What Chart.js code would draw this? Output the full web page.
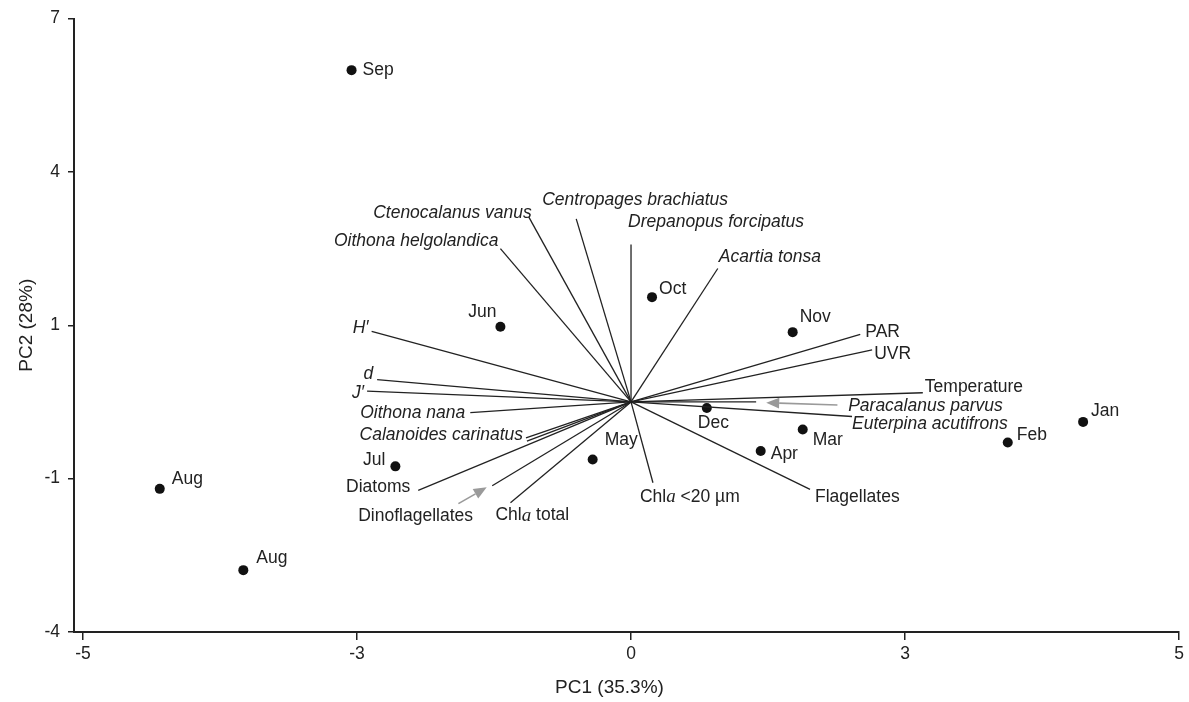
<!DOCTYPE html>
<html>
<head>
<meta charset="utf-8">
<script src="https://cdn.jsdelivr.net/npm/chart.js@4.4.1/dist/chart.umd.min.js"></script>
<style>
  html, body { margin: 0; padding: 0; background: #fff; }
  #wrap { width: 1189px; height: 702px; }
</style>
</head>
<body>
<div id="wrap"><canvas id="chart"></canvas></div>
<script>
// tick labels of the figure (they sit evenly spaced on the page)
const xTicks = [-5, -3, 0, 3, 5];
const yTicks = [-4, -1, 1, 4, 7];

// sample scores
const monthNames = ['Jan', 'Feb', 'Mar', 'Apr', 'May', 'Jun', 'Jul', 'Aug', 'Aug', 'Sep', 'Oct', 'Nov', 'Dec'];
const monthX = [4.30, 3.75, 1.88, 1.42, -0.42, -1.43, -2.58, -4.44, -3.83, -3.04, 0.23, 1.77, 0.83];
const monthY = [-0.26, -0.53, -0.36, -0.64, -0.75, 0.98, -0.84, -1.20, -2.79, 5.99, 1.55, 0.91, -0.08];

// variable loadings
const varNames = ['Ctenocalanus vanus', 'Centropages brachiatus', 'Drepanopus forcipatus', 'Oithona helgolandica',
    'Acartia tonsa', 'H\u2032', 'd', 'J\u2032', 'Oithona nana', 'Calanoides carinatus', '',
    'Diatoms', 'Dinoflagellates', 'Chla total', 'Chla <20 \u00b5m', 'Flagellates',
    'Euterpina acutifrons', 'Paracalanus parvus', 'Temperature', 'UVR', 'PAR'];
const varX = [-1.12, -0.60, 0.00, -1.43, 0.95, -2.84, -2.78, -2.89, -1.76, -1.15, -1.14,
    -2.33, -1.52, -1.32, 0.24, 1.96, 2.42, 1.37, 3.13, 2.64, 2.51];
const varY = [3.12, 3.08, 2.58, 2.50, 2.11, 0.92, 0.29, 0.14, -0.14, -0.47, -0.51,
    -1.23, -1.14, -1.47, -1.08, -1.21, -0.19, 0.00, 0.12, 0.68, 0.88];

// grey pointer arrows (from, to)
const arrowFromX = [2.26, -1.89];
const arrowFromY = [-0.04, -1.49];
const arrowToX = [1.48, -1.58];
const arrowToY = [-0.01, -1.17];

// label placement: [dx, dy, align] in px from the mark
const monthLabelPos = [[8, -11, 'left'], [9, -7, 'left'], [10, 11, 'left'], [10, 3, 'left'], [12, -19, 'left'],
    [-4, -15, 'right'], [-10, -6, 'right'], [12, -10, 'left'], [13, -12, 'left'], [11, 0, 'left'],
    [7, -8, 'left'], [7, -15, 'left'], [-9, 15, 'left']];
const varLabelPos = [[3, -4, 'right'], [-34, -19, 'left'], [-3, -22, 'left'], [-2, -7, 'right'],
    [1, -11, 'left'], [-3, -3, 'right'], [-4, -6, 'right'], [-3, 2, 'right'], [-5, 0, 'right'],
    [-3, -3, 'right'], [0, 0, 'left'], [-8, -3, 'right'], [-134, 30, 'left'], [-15, 13, 'left'],
    [-13, 14, 'left'], [5, 8, 'left'], [0, 8, 'left'], [92, 4, 'left'], [2, -6, 'left'],
    [2, 4, 'left'], [5, -2, 'left']];
const varItalic = [1, 1, 1, 1, 1, 1, 1, 1, 1, 1, 1, 0, 0, 0, 0, 0, 1, 1, 0, 0, 0];

const xTitle = 'PC1 (35.3%)';
const yTitle = 'PC2 (28%)';

const SANS = '"Liberation Sans", Arial, Helvetica, sans-serif';
const INK = '#222';

// axis whose tick values are spread evenly, linear between ticks
const axisKnots = { x: xTicks, y: yTicks };
const LinearScale = Chart.LinearScale || Chart.registry.getScale('linear');
class KnotScale extends LinearScale {
    toIndex(v) {
        const k = axisKnots[this.id];
        let i = 0;
        while (i < k.length - 2 && v > k[i + 1]) i++;
        return i + (v - k[i]) / (k[i + 1] - k[i]);
    }
    fromIndex(t) {
        const k = axisKnots[this.id];
        const i = Math.min(Math.max(Math.floor(t), 0), k.length - 2);
        return k[i] + (t - i) * (k[i + 1] - k[i]);
    }
    buildTicks() {
        return axisKnots[this.id].map(v => ({ value: v }));
    }
    getPixelForValue(v) {
        const a = this.toIndex(this.min), b = this.toIndex(this.max);
        return this.getPixelForDecimal((this.toIndex(v) - a) / (b - a));
    }
    getValueForPixel(p) {
        const a = this.toIndex(this.min), b = this.toIndex(this.max);
        return this.fromIndex(a + this.getDecimalForPixel(p) * (b - a));
    }
}
KnotScale.id = 'knots';
KnotScale.defaults = {};
Chart.register(KnotScale);

function drawText(ctx, text, x, y, align, italic) {
    const size = 17.5;
    const normal = (italic ? 'italic ' : '') + size + 'px ' + SANS;
    let parts = [[text, normal]];
    if (text.indexOf('Chla') === 0) {
        parts = [['Chl', normal], ['a', 'italic 19px "Liberation Serif", "Times New Roman", serif'], [text.slice(4), normal]];
    }
    let w = 0;
    parts.forEach(p => { ctx.font = p[1]; w += ctx.measureText(p[0]).width; });
    let cx = align === 'right' ? x - w : (align === 'center' ? x - w / 2 : x);
    ctx.textAlign = 'left';
    ctx.textBaseline = 'middle';
    parts.forEach(p => {
        ctx.font = p[1];
        ctx.fillText(p[0], cx, y);
        cx += ctx.measureText(p[0]).width;
    });
}

const labelPlugin = {
    id: 'biplotLabels',
    afterDatasetsDraw(chart) {
        const ctx = chart.ctx, xs = chart.scales.x, ys = chart.scales.y;
        ctx.save();
        // grey arrows
        ctx.strokeStyle = '#9a9a9a';
        ctx.fillStyle = '#9a9a9a';
        ctx.lineWidth = 1.6;
        arrowFromX.forEach((_, i) => {
            const x0 = xs.getPixelForValue(arrowFromX[i]), y0 = ys.getPixelForValue(arrowFromY[i]);
            const x1 = xs.getPixelForValue(arrowToX[i]), y1 = ys.getPixelForValue(arrowToY[i]);
            const ang = Math.atan2(y1 - y0, x1 - x0), len = 13, half = 5.5;
            const bx = x1 - len * Math.cos(ang), by = y1 - len * Math.sin(ang);
            ctx.beginPath();
            ctx.moveTo(x0, y0);
            ctx.lineTo(bx, by);
            ctx.stroke();
            ctx.beginPath();
            ctx.moveTo(x1, y1);
            ctx.lineTo(bx + half * Math.sin(ang), by - half * Math.cos(ang));
            ctx.lineTo(bx - half * Math.sin(ang), by + half * Math.cos(ang));
            ctx.closePath();
            ctx.fill();
        });
        ctx.fillStyle = INK;
        varNames.forEach((name, i) => {
            if (!name) return;
            const p = varLabelPos[i];
            drawText(ctx, name, xs.getPixelForValue(varX[i]) + p[0], ys.getPixelForValue(varY[i]) + p[1], p[2], varItalic[i]);
        });
        monthNames.forEach((name, i) => {
            const p = monthLabelPos[i];
            drawText(ctx, name, xs.getPixelForValue(monthX[i]) + p[0], ys.getPixelForValue(monthY[i]) + p[1], p[2], false);
        });
        // x axis title, sitting a little left of the axis centre as in the figure
        ctx.font = '19px ' + SANS;
        ctx.textAlign = 'center';
        ctx.textBaseline = 'middle';
        ctx.fillText(xTitle, (xs.left + xs.right) / 2 - 17, xs.bottom - 14);
        ctx.restore();
    }
};

const vectorSets = varNames.map((name, i) => ({
    label: name,
    data: [{ x: 0, y: 0 }, { x: varX[i], y: varY[i] }],
    showLine: true,
    borderColor: INK,
    borderWidth: 1.3,
    pointRadius: 0
}));

const pointSet = {
    label: 'months',
    data: monthX.map((x, i) => ({ x: x, y: monthY[i] })),
    pointRadius: 5,
    backgroundColor: '#111',
    borderWidth: 0
};

const tickFont = { family: SANS, size: 17.5 };
const titleFont = { family: SANS, size: 19 };

new Chart(document.getElementById('chart'), {
    type: 'scatter',
    data: { datasets: vectorSets.concat([pointSet]) },
    options: {
        responsive: true,
        maintainAspectRatio: false,
        animation: false,
        layout: { padding: { top: 16, right: 10, bottom: 0, left: 0 } },
        plugins: { legend: { display: false }, tooltip: { enabled: false } },
        scales: {
            x: {
                type: 'knots',
                min: -5.066,
                max: 5,
                afterFit: s => { s.height = 70; },
                grid: { display: true, drawOnChartArea: false, drawTicks: true, tickLength: 8, color: INK, lineWidth: 1.5 },
                border: { display: true, color: INK, width: 2 },
                ticks: { autoSkip: false, maxRotation: 0, padding: 4, color: INK, font: tickFont, callback: v => String(v) },
                title: { display: false }
            },
            y: {
                type: 'knots',
                min: -4,
                max: 7,
                afterFit: s => { s.width = 74; },
                grid: { display: true, drawOnChartArea: false, drawTicks: true, tickLength: 6, color: INK, lineWidth: 1.5 },
                border: { display: true, color: INK, width: 2 },
                ticks: { autoSkip: false, padding: 8, color: INK, font: tickFont, callback: v => String(v) },
                title: { display: true, text: yTitle, color: INK, font: titleFont, padding: { top: 15, bottom: 0 } }
            }
        }
    },
    plugins: [labelPlugin]
});
</script>
</body>
</html>
